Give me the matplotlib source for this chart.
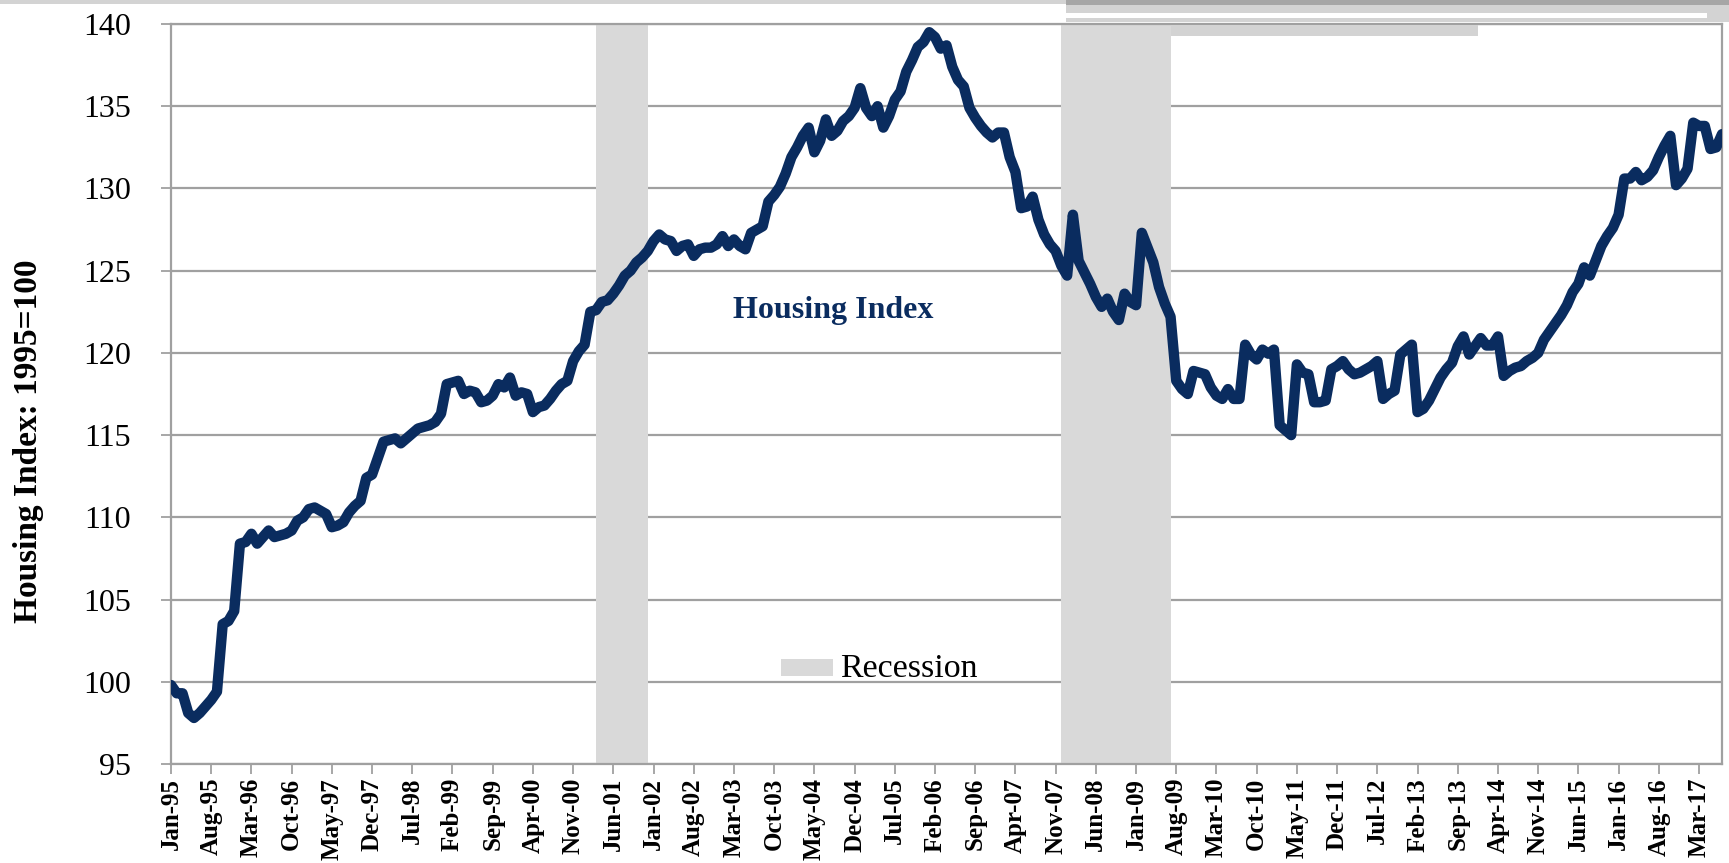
import numpy as np
import pandas as pd
import matplotlib
matplotlib.use("Agg")
import matplotlib.pyplot as plt
from matplotlib.patches import Rectangle

plt.rcParams["font.family"] = ["Liberation Serif", "DejaVu Serif"]

# monthly housing index, Jan-95 .. Jul-17 (1995 = 100)
housing_index = [
    99.8, 99.3, 99.3, 98.1, 97.8, 98.1, 98.5, 98.9, 99.4, 103.5, 103.7, 104.3,            # 1995
    108.4, 108.5, 109.0, 108.4, 108.8, 109.2, 108.8, 108.9, 109.0, 109.2, 109.8, 110.0,   # 1996
    110.5, 110.6, 110.4, 110.2, 109.4, 109.5, 109.7, 110.3, 110.7, 111.0, 112.4, 112.6,   # 1997
    113.6, 114.6, 114.7, 114.8, 114.5, 114.8, 115.1, 115.4, 115.5, 115.6, 115.8, 116.3,   # 1998
    118.1, 118.2, 118.3, 117.5, 117.7, 117.6, 117.0, 117.1, 117.4, 118.1, 117.9, 118.5,   # 1999
    117.4, 117.6, 117.5, 116.4, 116.7, 116.8, 117.2, 117.7, 118.1, 118.3, 119.5, 120.1,   # 2000
    120.5, 122.5, 122.6, 123.1, 123.2, 123.6, 124.1, 124.7, 125.0, 125.5, 125.8, 126.2,   # 2001
    126.8, 127.2, 126.9, 126.8, 126.2, 126.5, 126.6, 125.9, 126.3, 126.4, 126.4, 126.6,   # 2002
    127.1, 126.5, 126.9, 126.5, 126.3, 127.3, 127.5, 127.7, 129.2, 129.6, 130.1, 130.9,   # 2003
    131.9, 132.5, 133.2, 133.7, 132.2, 132.9, 134.2, 133.2, 133.5, 134.1, 134.4, 134.9,   # 2004
    136.1, 134.9, 134.4, 135.0, 133.7, 134.4, 135.4, 135.9, 137.1, 137.8, 138.6, 138.9,   # 2005
    139.5, 139.2, 138.5, 138.7, 137.4, 136.6, 136.2, 134.9, 134.3, 133.8, 133.4, 133.1,   # 2006
    133.4, 133.4, 131.9, 131.0, 128.8, 128.9, 129.5, 128.1, 127.2, 126.6, 126.2, 125.3,   # 2007
    124.7, 128.4, 125.6, 124.9, 124.2, 123.4, 122.8, 123.3, 122.5, 122.0, 123.6, 123.1,   # 2008
    122.9, 127.3, 126.4, 125.5, 124.0, 123.0, 122.2, 118.3, 117.8, 117.5, 118.9, 118.8,   # 2009
    118.7, 117.9, 117.4, 117.2, 117.8, 117.2, 117.2, 120.5, 119.9, 119.6, 120.2, 119.95,  # 2010
    120.2, 115.6, 115.3, 115.0, 119.3, 118.8, 118.7, 117.0, 117.0, 117.1, 119.0, 119.2,   # 2011
    119.5, 119.0, 118.7, 118.8, 119.0, 119.2, 119.5, 117.2, 117.5, 117.7, 119.9, 120.2,   # 2012
    120.5, 116.4, 116.6, 117.1, 117.8, 118.5, 119.0, 119.4, 120.4, 121.0, 119.9, 120.4,   # 2013
    120.9, 120.45, 120.45, 121.0, 118.6, 118.9, 119.1, 119.2, 119.5, 119.7, 120.0, 120.8, # 2014
    121.3, 121.8, 122.3, 122.9, 123.7, 124.2, 125.2, 124.7, 125.6, 126.5, 127.1, 127.6,   # 2015
    128.4, 130.6, 130.6, 131.0, 130.5, 130.7, 131.1, 131.9, 132.6, 133.2, 130.2, 130.6,   # 2016
    131.2, 134.0, 133.8, 133.8, 132.4, 132.5, 133.3,                                      # 2017
]
months = pd.date_range("1995-01-01", periods=len(housing_index), freq="MS")
month_labels = [d.strftime("%b-%y") for d in months]

# NBER recessions (first month, month after end)
recessions = [("2001-03", "2001-12"), ("2007-12", "2009-07")]

y_ticks = [95, 100, 105, 110, 115, 120, 125, 130, 135, 140]
tick_step = 7

LINE = "#0A2C5F"
GRID = "#A0A0A0"
SHADE = "#D9D9D9"

W, H = 1729, 863
fig = plt.figure(figsize=(W / 100, H / 100), dpi=100)
ax = fig.add_axes([171 / W, 1 - 764 / H, (1722 - 171) / W, (764 - 24) / H])

x = np.arange(len(housing_index))
idx = {m.strftime("%Y-%m"): i for i, m in enumerate(months)}

for start, end in recessions:
    ax.axvspan(idx[start], idx[end], color=SHADE, lw=0, zorder=2)

ax.plot(x, housing_index, color=LINE, lw=7.5, solid_joinstyle="round",
        solid_capstyle="round", zorder=3)

ax.set_xlim(0, len(housing_index) - 1)
ax.set_ylim(95, 140)
ax.set_yticks(y_ticks)
ax.yaxis.grid(True, color=GRID, lw=1.6, zorder=1)
ax.set_axisbelow(True)

xt = x[::tick_step]
ax.set_xticks(xt)
ax.set_xticklabels([month_labels[i] for i in xt], rotation=90,
                   fontsize=18, fontweight="bold")
ax.tick_params(axis="x", length=7, width=1.3, color=GRID, pad=3)
ax.tick_params(axis="y", length=7, width=1.3, color=GRID, pad=22, labelsize=23)

for side in ["left", "bottom", "right", "top"]:
    ax.spines[side].set_color(GRID)
    ax.spines[side].set_linewidth(1.6)

fig.text(29 / W, 1 - 441 / H, "Housing Index: 1995=100", rotation=90,
         fontsize=24, fontweight="bold", ha="center", va="center")

ax.text(0.427, 0.613, "Housing Index", transform=ax.transAxes,
        fontsize=23, fontweight="bold", color=LINE, ha="center", va="center")

# legend swatch for the recession shading
fig.add_artist(Rectangle((781 / W, 1 - 676 / H), 52 / W, 17 / H,
                         transform=fig.transFigure, color=SHADE, lw=0))
fig.text(840 / W, 1 - 677 / H, "Recession", fontsize=24.5, va="baseline")

# stray shapes along the top edge of the original screenshot
def strip(x0, y0, x1, y1, c):
    fig.add_artist(Rectangle((x0 / W, 1 - y1 / H), (x1 - x0) / W, (y1 - y0) / H,
                             transform=fig.transFigure, color=c, lw=0, zorder=5))

strip(0, 0, W, 4, "#D3D3D3")
strip(1066, 0, W, 5, "#A6A6A6")
strip(1066, 5, W, 22, "#D3D3D3")
strip(1066, 13, 1707, 18, "#FFFFFF")
strip(1171, 25, 1478, 36, "#D3D3D3")

fig.savefig("out.png", dpi=100)
